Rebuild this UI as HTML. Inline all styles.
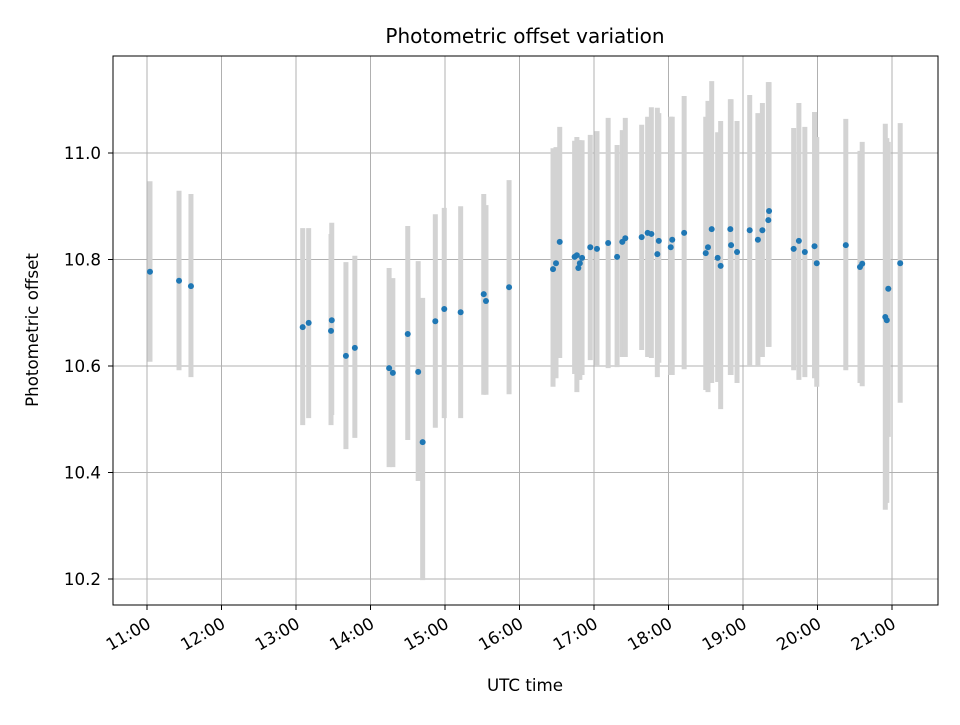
<!DOCTYPE html>
<html><head><meta charset="utf-8"><style>
body{margin:0;background:#fff}
svg text{font-family:"DejaVu Sans","Liberation Sans",sans-serif;fill:#000}
</style></head><body>
<svg id="chart" width="960" height="720" xmlns="http://www.w3.org/2000/svg">
<rect x="0" y="0" width="960" height="720" fill="#fff"/>
<text x="525" y="43" font-size="20" text-anchor="middle">Photometric offset variation</text>
<text x="525" y="691" font-size="16.7" text-anchor="middle">UTC time</text>
<text transform="translate(38,330) rotate(-90)" font-size="16.7" text-anchor="middle">Photometric offset</text>
<g id="grid"></g>
<g id="bars"></g>
<g id="pts"></g>
<g id="axes"></g>
<rect x="113" y="56" width="825" height="549" fill="none" stroke="#000" stroke-width="1"/>
</svg>
<script>
const times=[11.04,11.43,11.59,13.09,13.17,13.47,13.48,13.67,13.79,14.25,14.30,14.50,14.64,14.70,14.87,14.99,15.21,15.52,15.55,15.86,
16.45,16.49,16.54,16.74,16.77,16.79,16.81,16.84,16.95,17.04,17.19,17.31,17.38,17.42,17.64,17.72,17.77,17.85,17.87,18.03,18.05,18.21,
18.50,18.53,18.58,18.66,18.70,18.83,18.84,18.92,19.09,19.20,19.26,19.34,19.35,
19.68,19.75,19.83,19.96,19.99,20.38,20.57,20.60,20.91,20.93,20.95,21.11];
const values=[10.777,10.760,10.750,10.673,10.681,10.666,10.686,10.619,10.634,10.596,10.587,10.660,10.589,10.457,10.684,10.707,10.701,10.735,10.722,10.748,
10.782,10.793,10.833,10.805,10.808,10.784,10.793,10.803,10.823,10.820,10.831,10.805,10.833,10.840,10.842,10.850,10.848,10.810,10.835,10.823,10.837,10.850,
10.812,10.823,10.857,10.803,10.788,10.857,10.827,10.814,10.855,10.837,10.855,10.874,10.891,
10.820,10.835,10.814,10.825,10.793,10.827,10.786,10.792,10.692,10.686,10.745,10.793];
const upper=[10.947,10.929,10.923,10.859,10.859,10.848,10.869,10.795,10.807,10.784,10.765,10.863,10.797,10.728,10.885,10.897,10.900,10.923,10.902,10.949,
11.009,11.011,11.049,11.023,11.030,11.024,11.024,11.024,11.034,11.041,11.066,11.015,11.043,11.066,11.053,11.068,11.086,11.085,11.075,11.068,11.068,11.107,
11.068,11.098,11.135,11.039,11.060,11.101,11.101,11.060,11.109,11.075,11.094,11.133,11.133,
11.047,11.094,11.049,11.077,11.030,11.064,11.004,11.021,11.055,11.028,11.021,11.056];
const lower=[10.608,10.592,10.579,10.489,10.502,10.489,10.508,10.444,10.465,10.410,10.410,10.461,10.384,10.198,10.484,10.502,10.502,10.546,10.546,10.547,
10.561,10.577,10.615,10.585,10.551,10.574,10.574,10.583,10.611,10.600,10.596,10.598,10.617,10.617,10.630,10.617,10.615,10.579,10.606,10.583,10.583,10.594,
10.555,10.551,10.568,10.570,10.519,10.583,10.583,10.568,10.600,10.600,10.617,10.636,10.636,
10.592,10.574,10.579,10.577,10.561,10.592,10.568,10.562,10.330,10.343,10.467,10.531];
const xTicks=[11,12,13,14,15,16,17,18,19,20,21];
const xTickLabels=["11:00","12:00","13:00","14:00","15:00","16:00","17:00","18:00","19:00","20:00","21:00"];
const yTicks=[10.2,10.4,10.6,10.8,11.0];
const yTickLabels=["10.2","10.4","10.6","10.8","11.0"];

const NS="http://www.w3.org/2000/svg";
const X0=113,X1=938,Y0=56,Y1=605;
function xs(t){return 147+(t-11)*74.5;}
function ys(v){return 153+(11-v)*532.5;}
function mk(tag,attrs,parent){const e=document.createElementNS(NS,tag);for(const k in attrs)e.setAttribute(k,attrs[k]);parent.appendChild(e);return e;}
const grid=document.getElementById('grid'),bars=document.getElementById('bars'),pts=document.getElementById('pts'),axes=document.getElementById('axes');
xTicks.forEach((t,i)=>{
  const x=xs(t);
  const g=mk('line',{x1:x,x2:x,y1:Y0,y2:Y1,stroke:'#b0b0b0','stroke-width':1},grid);
  
  
  const tk=mk('line',{x1:x,x2:x,y1:Y1,y2:Y1+5,stroke:'#000','stroke-width':1},axes);
  
  
  const tx=mk('text',{x:x+5,y:Y1+22,'font-size':16.7,'text-anchor':'end',transform:`rotate(-30 ${x+5} ${Y1+22})`},axes);
  tx.textContent=xTickLabels[i];
  
  
});
yTicks.forEach((v,i)=>{
  const y=ys(v);
  const g=mk('line',{x1:X0,x2:X1,y1:y,y2:y,stroke:'#b0b0b0','stroke-width':1},grid);
  
  
  const tk=mk('line',{x1:X0-5,x2:X0,y1:y,y2:y,stroke:'#000','stroke-width':1},axes);
  
  
  const tx=mk('text',{x:X0-12,y:y+6,'font-size':16.7,'text-anchor':'end'},axes);
  tx.textContent=yTickLabels[i];
  
  
});
times.forEach((t,i)=>{
  const b=mk('line',{x1:xs(t),x2:xs(t),y1:ys(upper[i]),y2:ys(lower[i]),stroke:'#d3d3d3','stroke-width':5},bars);
  
  
});
times.forEach((t,i)=>{
  const c=mk('circle',{cx:xs(t),cy:ys(values[i]),r:3,fill:'#1f77b4'},pts);
  
  
});
</script>
</body></html>
